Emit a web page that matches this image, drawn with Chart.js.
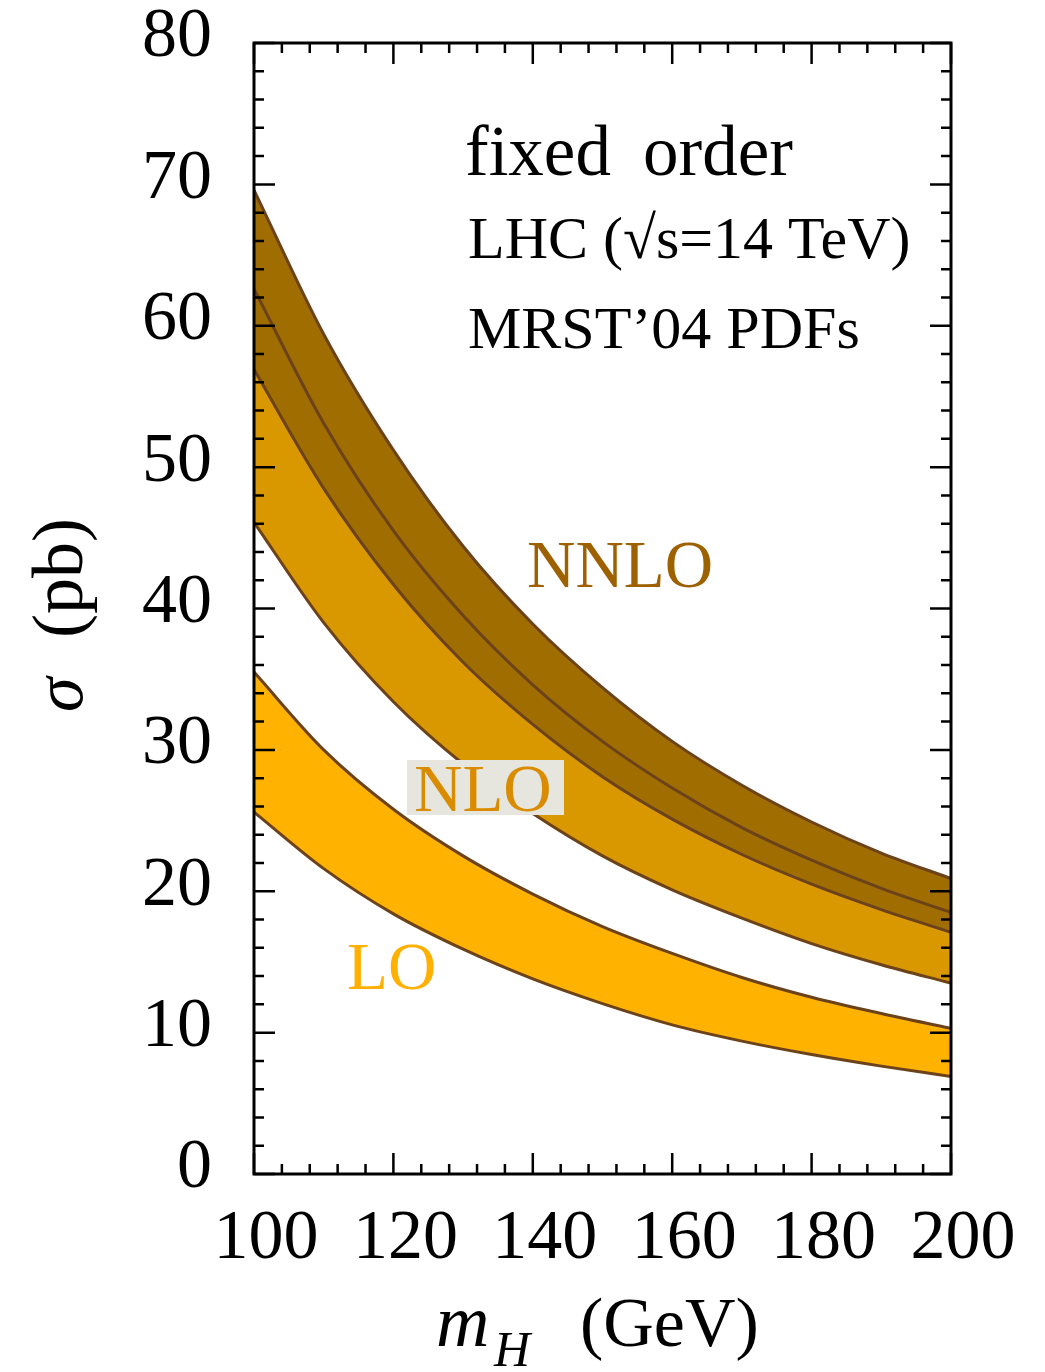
<!DOCTYPE html>
<html>
<head>
<meta charset="utf-8">
<script src="https://cdn.jsdelivr.net/npm/chart.js@4.4.0/dist/chart.umd.min.js"></script>
<style>
html,body{margin:0;padding:0;background:#fff;}
#wrap{position:relative;width:1045px;height:1372px;}
</style>
</head>
<body>
<div id="wrap"><canvas id="c" width="1045" height="1372"></canvas></div>
<script>
// ---- data ----
const mH       = [100, 110, 120, 130, 140, 150, 160, 170, 180, 190, 200];
const nnloHigh = [69.6, 59.4, 51.2, 44.4, 38.9, 34.4, 30.6, 27.5, 24.9, 22.7, 20.9];
const nnloLow  = [56.9, 48.5, 41.7, 36.2, 31.8, 28.1, 25.1, 22.6, 20.5, 18.7, 17.1];
const nloHigh  = [62.6, 53.1, 45.5, 39.5, 34.6, 30.6, 27.3, 24.5, 22.2, 20.2, 18.5];
const nloLow   = [46.1, 39.0, 33.4, 29.0, 25.5, 22.5, 20.1, 18.1, 16.3, 14.8, 13.5];
const loHigh   = [35.5, 30.0, 25.8, 22.5, 19.8, 17.5, 15.6, 13.9, 12.5, 11.35, 10.3];
const loLow    = [25.6, 21.6, 18.4, 15.9, 13.8, 12.05, 10.55, 9.4, 8.45, 7.63, 6.9];
const xTickLabels = [100, 120, 140, 160, 180, 200];
const yTickLabels = [0, 10, 20, 30, 40, 50, 60, 70, 80];

const pts = arr => arr.map((v, i) => ({x: mH[i], y: v}));
const LINE = '#6B4219';
const SERIF = '"Liberation Serif", "DejaVu Serif", serif';

function band(label, data, fill, color) {
  return {
    label, data: pts(data),
    borderColor: LINE, borderWidth: 3,
    pointRadius: 0, cubicInterpolationMode: 'monotone',
    fill: fill ? '+1' : false,
    backgroundColor: color
  };
}

const frameAndText = {
  id: 'frameAndText',
  afterDraw(chart) {
    const {ctx, chartArea: a, scales: {x, y}} = chart;
    ctx.save();
    // ticks (inward, mirrored)
    ctx.strokeStyle = '#000';
    ctx.lineWidth = 2.5;
    ctx.beginPath();
    x.ticks.forEach(t => {
      const px = x.getPixelForValue(t.value);
      const L = xTickLabels.includes(t.value) ? 21 : 10;
      ctx.moveTo(px, a.bottom); ctx.lineTo(px, a.bottom - L);
      ctx.moveTo(px, a.top); ctx.lineTo(px, a.top + L);
    });
    y.ticks.forEach(t => {
      const py = y.getPixelForValue(t.value);
      const L = yTickLabels.includes(t.value) ? 21 : 10;
      ctx.moveTo(a.left, py); ctx.lineTo(a.left + L, py);
      ctx.moveTo(a.right, py); ctx.lineTo(a.right - L, py);
    });
    ctx.stroke();
    ctx.lineWidth = 3;
    ctx.strokeRect(a.left, a.top, a.right - a.left, a.bottom - a.top);

    // annotations
    ctx.fillStyle = '#000';
    ctx.textBaseline = 'alphabetic';
    ctx.textAlign = 'left';
    ctx.font = '71px ' + SERIF;
    ctx.fillText('fixed', 465, 175);
    ctx.fillText('order', 643, 175);
    ctx.font = '60px ' + SERIF;
    ctx.fillText('LHC (\u221As=14 TeV)', 468, 258);
    ctx.fillText('MRST\u201904 PDFs', 468, 348);

    ctx.font = '67px ' + SERIF;
    ctx.fillStyle = '#9E6100';
    ctx.fillText('NNLO', 527, 587);

    ctx.fillStyle = '#E6E6DF';
    ctx.fillRect(407, 760, 157, 55);
    ctx.fillStyle = '#DA8C00';
    ctx.fillText('NLO', 414, 811);

    ctx.fillStyle = '#FFB000';
    ctx.fillText('LO', 347, 989);

    // axis titles
    ctx.fillStyle = '#000';
    ctx.font = 'italic 74px ' + SERIF;
    ctx.fillText('m', 436, 1346);
    ctx.font = 'italic 50px ' + SERIF;
    ctx.fillText('H', 494, 1366);
    ctx.font = '70px ' + SERIF;
    ctx.fillText('(GeV)', 580, 1346);

    ctx.translate(82, 712);
    ctx.rotate(-Math.PI / 2);
    ctx.font = 'italic 70px ' + SERIF;
    ctx.fillText('\u03C3', 0, 0);
    ctx.font = '72px ' + SERIF;
    ctx.fillText('(pb)', 74, 0);
    ctx.restore();
  }
};

new Chart(document.getElementById('c'), {
  type: 'line',
  data: {
    datasets: [
      band('NNLO high', nnloHigh, true, '#A06E00'),
      band('NNLO low', nnloLow, false, '#A06E00'),
      band('NLO high', nloHigh, true, '#D99700'),
      band('NLO low', nloLow, false, '#D99700'),
      band('LO high', loHigh, true, '#FFB300'),
      band('LO low', loLow, false, '#FFB300')
    ]
  },
  options: {
    responsive: false,
    animation: false,
    layout: {padding: {left: 0, top: 43, right: 94, bottom: 0}},
    plugins: {
      legend: {display: false}, tooltip: {enabled: false},
      filler: {drawTime: 'beforeDatasetsDraw'}
    },
    scales: {
      x: {
        type: 'linear', min: 100, max: 200,
        grid: {display: false, drawTicks: false},
        border: {display: false},
        afterFit(s) { s.height = 198; },
        ticks: {
          stepSize: 4, autoSkip: false, maxRotation: 0, padding: 24, labelOffset: 12,
          color: '#000', font: {family: SERIF, size: 70},
          callback: v => xTickLabels.includes(v) ? String(v) : ''
        }
      },
      y: {
        type: 'linear', min: 0, max: 80,
        grid: {display: false, drawTicks: false},
        border: {display: false},
        afterFit(s) { s.width = 254; s.paddingTop = 0; s.paddingBottom = 0; },
        ticks: {
          stepSize: 2, autoSkip: false, padding: 42, labelOffset: -5,
          color: '#000', font: {family: SERIF, size: 70},
          callback: v => yTickLabels.includes(v) ? String(v) : ''
        }
      }
    }
  },
  plugins: [frameAndText]
});
</script>
</body>
</html>
